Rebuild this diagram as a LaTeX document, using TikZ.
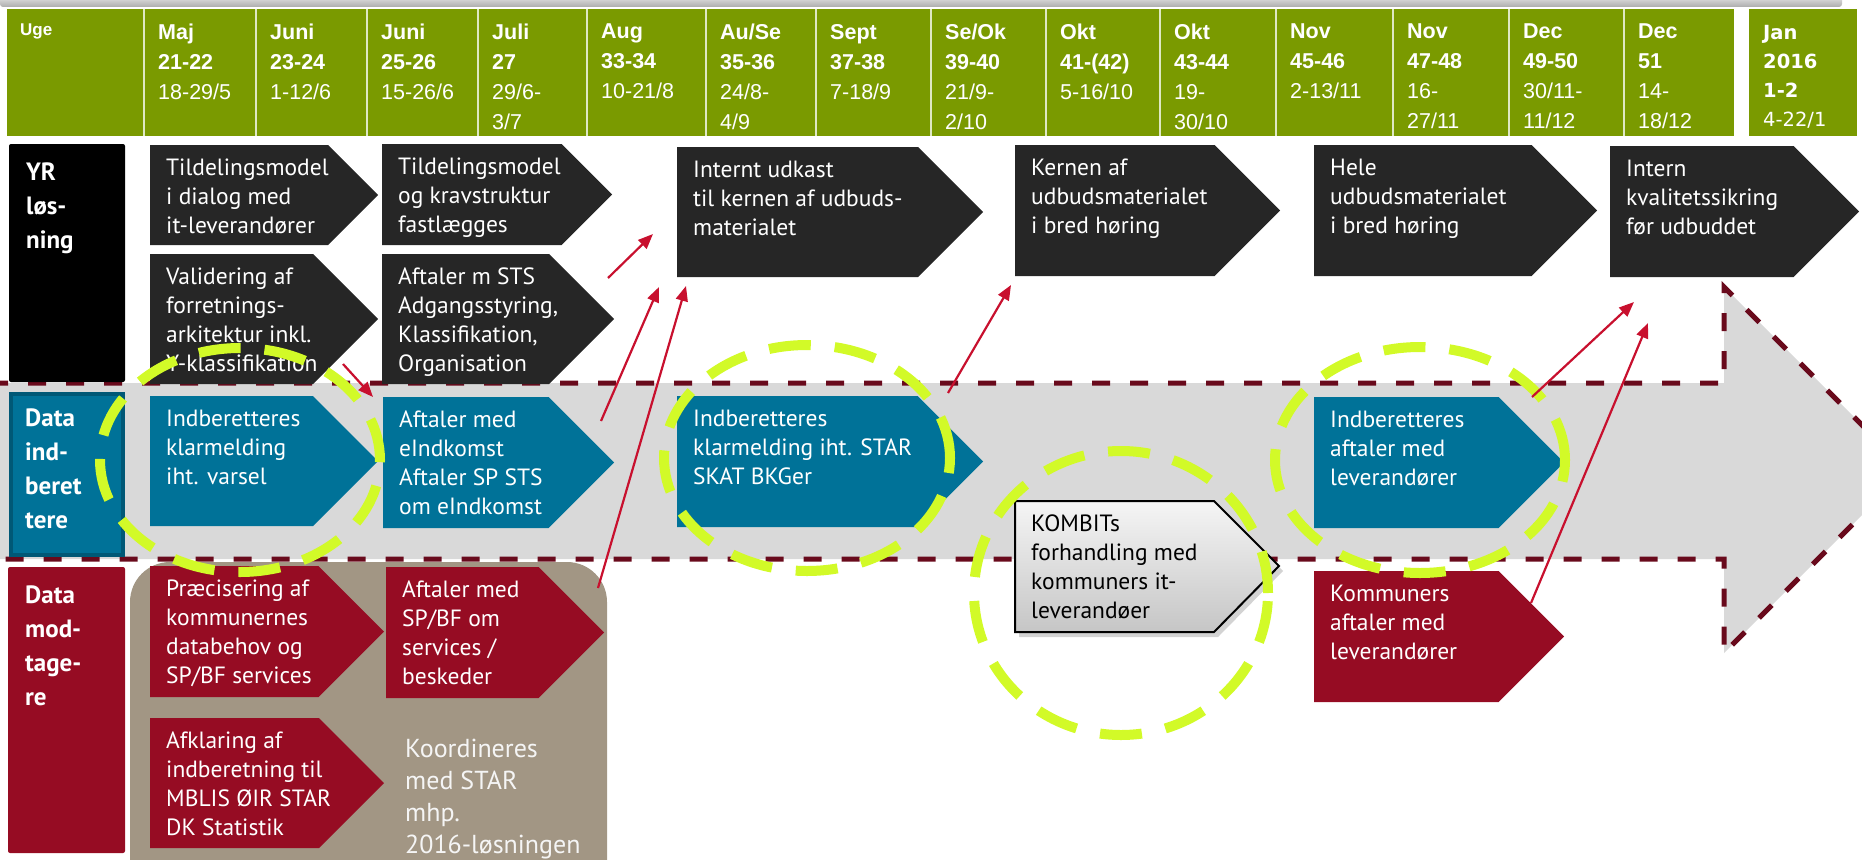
\documentclass[tikz,border=0pt]{standalone}
\usepackage{fontspec}
\setmainfont{Liberation Sans}
\newfontfamily\chevfamily{PT Sans}
\newfontfamily\janfamily{DejaVu Sans}
\usetikzlibrary{arrows.meta,shadows}

\definecolor{hdrgreen}{RGB}{122,154,0}
\definecolor{hdrline}{RGB}{222,232,196}
\definecolor{darkbox}{RGB}{38,38,38}
\definecolor{datablue}{RGB}{0,114,152}
\definecolor{blueborder}{RGB}{0,88,118}
\definecolor{wine}{RGB}{150,12,35}
\definecolor{tan}{RGB}{162,150,132}
\definecolor{bandgray}{RGB}{217,217,217}
\definecolor{maroon}{RGB}{105,10,28}
\definecolor{limey}{RGB}{210,250,40}
\definecolor{arrowred}{RGB}{200,16,46}

\newcommand{\chevfont}{\chevfamily\fontsize{23.5}{29}\selectfont}
\newcommand{\rowfont}{\chevfamily\bfseries\fontsize{25}{34}\selectfont}
\newcommand{\hdrfont}{\fontsize{21.5}{30}\selectfont}
\newcommand{\janfont}{\janfamily\fontsize{19.5}{29}\selectfont}

% chevron: name, left, top, tip x, bottom, style, text
\newcommand{\chev}[7]{%
  \path[#6] (#2,#3) -- ({#4-(#5-#3)/2},#3) -- (#4,{(#3+#5)/2})
    -- ({#4-(#5-#3)/2},#5) -- (#2,#5) -- cycle;
  \node[chevtext] (#1) at ({#2+16},{#3+14}) {#7};}

\begin{document}
\begin{tikzpicture}[x=1pt,y=-1pt,
  chevtext/.style={font=\chevfont, text=white, align=left, inner sep=0pt, anchor=north west},
  hdrtext/.style={font=\hdrfont, text=white, align=left, inner sep=0pt, anchor=north west},
  rowlabel/.style={font=\rowfont, text=white, align=left, inner sep=0pt, anchor=north west},
  darkchev/.style={fill=darkbox},
  bluechev/.style={fill=datablue},
  winechev/.style={fill=wine},
  kombitchev/.style={top color=gray!8, bottom color=gray!45, draw=black, line width=2pt,
    drop shadow={shadow xshift=4pt, shadow yshift=-5pt, opacity=.35}},
  hilite/.style={draw=limey, line width=10pt, dash pattern=on 42pt off 24pt},
  redarrow/.style={draw=arrowred, line width=2.2pt, -{Triangle[length=15pt,width=12pt]}},
  bandline/.style={draw=maroon, line width=5pt, dash pattern=on 18pt off 20pt}]
\useasboundingbox (0,0) rectangle (1862,859);

% top shadow strip and header
\shade[top color=gray!20, bottom color=gray!65, rounded corners=3pt] (0,-4) rectangle (1842,7);
\fill[hdrgreen] (7,9) rectangle (1734,136);
\fill[hdrgreen] (1749,9) rectangle (1857,136);
\foreach \sx in {144,256,367,478,587,706,816,931,1046,1160,1276,1393,1509,1624}
  \draw[hdrline, line width=2pt] (\sx,9) -- (\sx,136);

\node[hdrtext, font=\bfseries\fontsize{17}{20}\selectfont] (uge) at (20,24) {Uge};
\node[hdrtext] (w21) at (158,24) {\textbf{Maj}\\\textbf{21-22}\\18-29/5};
\node[hdrtext] (w23) at (270,24) {\textbf{Juni}\\\textbf{23-24}\\1-12/6};
\node[hdrtext] (w25) at (381,24) {\textbf{Juni}\\\textbf{25-26}\\15-26/6};
\node[hdrtext] (w27) at (492,24) {\textbf{Juli}\\\textbf{27}\\29/6-\\3/7};
\node[hdrtext] (w33) at (601,24) {\textbf{Aug}\\\textbf{33-34}\\10-21/8};
\node[hdrtext] (w35) at (720,24) {\textbf{Au/Se}\\\textbf{35-36}\\24/8-\\4/9};
\node[hdrtext] (w37) at (830,24) {\textbf{Sept}\\\textbf{37-38}\\7-18/9};
\node[hdrtext] (w39) at (945,24) {\textbf{Se/Ok}\\\textbf{39-40}\\21/9-\\2/10};
\node[hdrtext] (w41) at (1060,24) {\textbf{Okt}\\\textbf{41-(42)}\\5-16/10};
\node[hdrtext] (w43) at (1174,24) {\textbf{Okt}\\\textbf{43-44}\\19-\\30/10};
\node[hdrtext] (w45) at (1290,24) {\textbf{Nov}\\\textbf{45-46}\\2-13/11};
\node[hdrtext] (w47) at (1407,24) {\textbf{Nov}\\\textbf{47-48}\\16-\\27/11};
\node[hdrtext] (w49) at (1523,24) {\textbf{Dec}\\\textbf{49-50}\\30/11-\\11/12};
\node[hdrtext] (w51) at (1638,24) {\textbf{Dec}\\\textbf{51}\\14-\\18/12};
\node[hdrtext, font=\janfont] (w01) at (1763,25) {\textbf{Jan}\\\textbf{2016}\\\textbf{1-2}\\4-22/1};

% grey arrow band
\fill[bandgray] (-10,383) -- (1724,383) -- (1724,287) -- (1907,470) -- (1724,653)
  -- (1724,559) -- (-10,559) -- cycle;
\fill[tan, rounded corners=40pt] (130,562) rectangle (607,900);
\draw[bandline] (-10,383) -- (1724,383) -- (1724,287) -- (1907,470) -- (1724,653)
  -- (1724,559) -- (-10,559);

% row labels
\fill[black, rounded corners=2pt] (9,144) rectangle (125,382);
\node[rowlabel] (yr) at (26,163) {YR\\løs-\\ning};
\fill[datablue] (9,392) rectangle (125,557);
\draw[blueborder, line width=4pt] (11,394) rectangle (123,555);
\node[rowlabel] (dind) at (25,409) {Data\\ind-\\beret\\tere};
\fill[wine, rounded corners=2pt] (8,567) rectangle (125,853);
\node[rowlabel] (dmod) at (25,586) {Data\\mod-\\tage-\\re};

% YR løsning
\chev{k1}{150}{145}{378}{245}{darkchev}{Tildelingsmodel\\i dialog med\\it-leverandører}
\chev{k2}{150}{254}{378}{384}{darkchev}{Validering af\\forretnings-\\arkitektur inkl.\\Y-klassifikation}
\chev{k3}{382}{144}{612}{245}{darkchev}{Tildelingsmodel\\og kravstruktur\\fastlægges}
\chev{k4}{382}{254}{614}{384}{darkchev}{Aftaler m STS\\Adgangsstyring,\\Klassifikation,\\Organisation}
\chev{k5}{677}{147}{983}{277}{darkchev}{Internt udkast\\til kernen af udbuds-\\materialet}
\chev{k6}{1015}{145}{1280}{276}{darkchev}{Kernen af\\udbudsmaterialet\\i bred høring}
\chev{k7}{1314}{145}{1597}{276}{darkchev}{Hele\\udbudsmaterialet\\i bred høring}
\chev{k8}{1610}{146}{1859}{277}{darkchev}{Intern\\kvalitetssikring\\før udbuddet}

% Data indberettere
\chev{b1}{150}{396}{378}{526}{bluechev}{Indberetteres\\klarmelding\\iht. varsel}
\chev{b2}{383}{397}{614}{528}{bluechev}{Aftaler med\\eIndkomst\\Aftaler SP STS\\om eIndkomst}
\chev{b3}{677}{396}{983}{527}{bluechev}{Indberetteres\\klarmelding iht. STAR\\SKAT BKGer}
\chev{b4}{1314}{397}{1564}{528}{bluechev}{Indberetteres\\aftaler med\\leverandører}
\path[kombitchev] (1015,501) -- (1214,501) -- (1279,566) -- (1214,632) -- (1015,632) -- cycle;
\node[chevtext, text=black] (g1) at (1031,515) {KOMBITs\\forhandling med\\kommuners it-\\leverandøer};

% Data modtagere
\chev{r1}{150}{566}{384}{697}{winechev}{Præcisering af\\kommunernes\\databehov og\\SP/BF services}
\chev{r2}{386}{567}{604}{698}{winechev}{Aftaler med\\SP/BF om\\services /\\beskeder}
\chev{r3}{150}{718}{384}{848}{winechev}{Afklaring af\\indberetning til\\MBLIS ØIR STAR\\DK Statistik}
\chev{r4}{1314}{571}{1564}{702}{winechev}{Kommuners\\aftaler med\\leverandører}
\node[chevtext, text=gray!8, font=\chevfamily\fontsize{26}{32}\selectfont] (koord) at (405,739)
  {Koordineres\\med STAR\\mhp.\\2016-løsningen};

% highlight rings
\draw[hilite] (240,460) ellipse [x radius=140pt, y radius=112pt];
\draw[hilite] (807,458) ellipse [x radius=143pt, y radius=113pt];
\draw[hilite] (1121,593) ellipse [x radius=147pt, y radius=142pt];
\draw[hilite] (1420,460) ellipse [x radius=145pt, y radius=113pt];

% red arrows
\coordinate (a1) at (343,364);  \coordinate (a1e) at (373,397);
\coordinate (a2) at (608,278);  \coordinate (a2e) at (653,234);
\coordinate (a3) at (601,421);  \coordinate (a3e) at (659,287);
\coordinate (a4) at (598,588);  \coordinate (a4e) at (686,286);
\coordinate (a5) at (948,393);  \coordinate (a5e) at (1011,285);
\coordinate (a6) at (1532,397); \coordinate (a6e) at (1634,302);
\coordinate (a7) at (1531,603); \coordinate (a7e) at (1648,323);
\draw[redarrow] (a1) -- (a1e);
\draw[redarrow] (a2) -- (a2e);
\draw[redarrow] (a3) -- (a3e);
\draw[redarrow] (a4) -- (a4e);
\draw[redarrow] (a5) -- (a5e);
\draw[redarrow] (a6) -- (a6e);
\draw[redarrow] (a7) -- (a7e);
\end{tikzpicture}
\end{document}
